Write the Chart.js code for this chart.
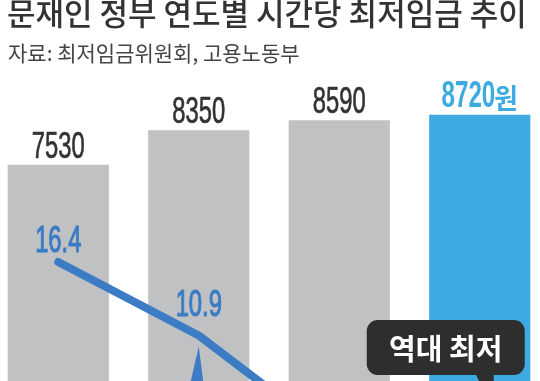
<!DOCTYPE html>
<html><head><meta charset="utf-8">
<script src="https://cdn.jsdelivr.net/npm/chart.js@4"></script>
<style>
html,body{margin:0;padding:0;background:#fff;overflow:hidden;width:540px;height:381px;}
#title{position:absolute;left:7px;top:-7px;font-family:'Noto Sans CJK KR';font-weight:500;font-size:31px;color:#333;white-space:nowrap;line-height:37px;}
#sub{position:absolute;left:8px;top:38px;font-family:'Noto Sans CJK KR';font-size:21px;color:#444;white-space:nowrap;line-height:28px;}
#wrap{position:absolute;left:-12px;top:0;width:562px;height:481px;}
</style></head><body>
<div id="wrap"><canvas id="c"></canvas></div>
<div id="title">문재인 정부 연도별 시간당 최저임금 추이</div>
<div id="sub">자료: 최저임금위원회, 고용노동부</div>
<script>
const categories = ['2018', '2019', '2020', '2021'];
const minimumWage = [7530, 8350, 8590, 8720];
const increaseRate = [16.4, 10.9, 2.9, 1.5];
const wageLabels = ['7530', '8350', '8590', '8720'];
const wageUnit = '원';
const rateLabels = ['16.4', '10.9', '2.9', '1.5'];
const calloutText = '역대 최저';

const GRAY = '#c0c1c3', BLUE_BAR = '#3dabe2', LINE = '#3b7cc5', DARK = '#2e2e2e';
const rateLabelGap = [10, 19, 14, 14];

function condText(ctx, txt, x, y, size, sx, color, align, bold, stroke) {
  ctx.save();
  ctx.font = (bold ? 'bold ' : '') + size + 'px "Liberation Sans"';
  const w = ctx.measureText(txt).width * sx;
  let left = x;
  if (align === 'center') left = x - w / 2;
  ctx.translate(left, y);
  ctx.scale(sx, 1);
  ctx.fillStyle = color;
  ctx.strokeStyle = color;
  ctx.lineWidth = stroke || 0;
  ctx.textAlign = 'left';
  ctx.textBaseline = 'alphabetic';
  ctx.fillText(txt, 0, 0);
  if (stroke) ctx.strokeText(txt, 0, 0);
  ctx.restore();
  return w;
}

const deco = {
  id: 'deco',
  afterDatasetsDraw(chart) {
    const ctx = chart.ctx;
    const barMeta = chart.getDatasetMeta(1);
    const lineMeta = chart.getDatasetMeta(0);
    barMeta.data.forEach((bar, i) => {
      const base = bar.y - 7;
      if (i === minimumWage.length - 1) {
        ctx.save();
        ctx.font = 'bold 28px "Noto Sans CJK KR"';
        const wu = ctx.measureText(wageUnit).width * 0.92;
        ctx.font = 'bold 36px "Liberation Sans"';
        const wd = ctx.measureText(wageLabels[i]).width * 0.67;
        ctx.restore();
        const total = wd - 1 + wu;
        const left = bar.x - total / 2;
        condText(ctx, wageLabels[i], left, bar.y - 8, 36, 0.67, BLUE_BAR, 'left', true, 0);
        ctx.save();
        ctx.translate(left + wd - 1, bar.y - 6);
        ctx.scale(0.92, 1);
        ctx.font = 'bold 28px "Noto Sans CJK KR"';
        ctx.fillStyle = BLUE_BAR;
        ctx.textBaseline = 'alphabetic';
        ctx.fillText(wageUnit, 0, 0);
        ctx.restore();
      } else {
        condText(ctx, wageLabels[i], bar.x, base, 36, 0.66, '#333', 'center', false, 0.7);
      }
    });
    const p2 = lineMeta.data[1];
    ctx.save();
    ctx.fillStyle = LINE;
    ctx.beginPath();
    ctx.moveTo(p2.x, p2.y + 11);
    ctx.lineTo(p2.x + 5, p2.y + 50);
    ctx.lineTo(p2.x - 9, p2.y + 50);
    ctx.closePath();
    ctx.fill();
    ctx.restore();
    lineMeta.data.forEach((pt, i) => {
      condText(ctx, rateLabels[i], pt.x, pt.y - rateLabelGap[i], 36, 0.66, LINE, 'center', false, 1.1);
    });
    const p4 = barMeta.data[3];
    const bx0 = p4.x - 113, bx1 = p4.x + 45, by0 = 320, by1 = 375;
    ctx.save();
    ctx.fillStyle = DARK;
    ctx.beginPath();
    ctx.roundRect(bx0, by0, bx1 - bx0, by1 - by0, 11);
    ctx.fill();
    ctx.beginPath();
    ctx.moveTo(p4.x - 4, by1 - 1);
    ctx.lineTo(p4.x + 14, by1 - 1);
    ctx.lineTo(p4.x + 14, by1 + 12);
    ctx.lineTo(p4.x + 2, by1 + 12);
    ctx.closePath();
    ctx.fill();
    ctx.font = 'bold 29px "Noto Sans CJK KR"';
    ctx.fillStyle = '#fff';
    ctx.textAlign = 'center';
    ctx.textBaseline = 'middle';
    ctx.fillText(calloutText, (bx0 + bx1) / 2, (by0 + by1) / 2 + 1);
    ctx.restore();
  }
};

new Chart(document.getElementById('c'), {
  type: 'bar',
  data: {
    labels: categories,
    datasets: [
      {
        type: 'line',
        data: increaseRate,
        yAxisID: 'y2',
        borderColor: LINE,
        borderWidth: 8,
        borderCapStyle: 'round',
        borderJoinStyle: 'round',
        pointRadius: 0,
        tension: 0,
        order: 0
      },
      {
        type: 'bar',
        data: minimumWage,
        yAxisID: 'y',
        backgroundColor: minimumWage.map((v, i) => i === minimumWage.length - 1 ? BLUE_BAR : GRAY),
        categoryPercentage: 1,
        barPercentage: 0.72,
        order: 1
      }
    ]
  },
  options: {
    responsive: true,
    maintainAspectRatio: false,
    animation: false,
    layout: { padding: { top: 19, left: 0, right: 0, bottom: 0 } },
    plugins: { legend: { display: false }, tooltip: { enabled: false } },
    scales: {
      x: { display: false, offset: true },
      y: { display: false, min: 0, max: 11000 },
      y2: { display: false, min: 0, max: 34.6 }
    }
  },
  plugins: [deco]
});
</script>
</body></html>
